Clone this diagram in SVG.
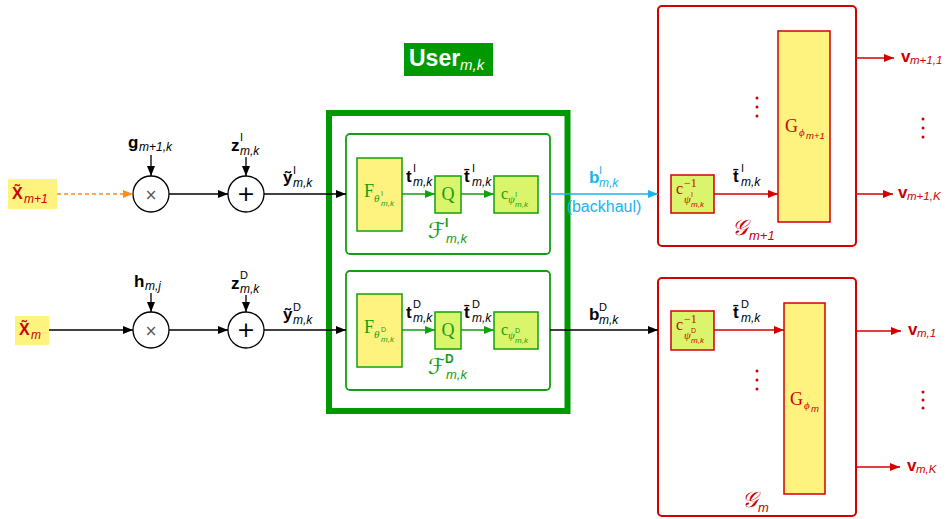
<svg xmlns="http://www.w3.org/2000/svg" width="949" height="519" viewBox="0 0 949 519">
<style>
.v{font-family:"Liberation Sans",Arial,sans-serif;font-weight:bold;font-size:17px}
.s{font-family:"Liberation Sans",Arial,sans-serif;font-style:italic;font-size:12px}
.p{font-family:"Liberation Sans",Arial,sans-serif;font-size:11px}
.rm{font-family:"Liberation Serif","Times New Roman",serif;font-size:18px}
.rs{font-family:"Liberation Serif","Times New Roman",serif;font-style:italic;font-size:11px}
.tn{font-family:"Liberation Sans",Arial,sans-serif;font-style:italic;font-size:8px}
.tu{font-family:"Liberation Sans",Arial,sans-serif;font-size:7px}
.cal{font-family:"DejaVu Sans","Noto Sans",sans-serif;font-style:italic;font-size:22px}
.gr{fill:#11a011}
.rd{fill:#cc0000}
.bl{fill:#1ab2f0}
.yel{fill:#fff380}
.lim{fill:#daf56c}
</style>
<defs>
<marker id="ak" viewBox="0 0 10 8" refX="10" refY="4" markerWidth="10" markerHeight="8" markerUnits="userSpaceOnUse" orient="auto"><path d="M0,0 L10,4 L0,8 z" fill="#000"/></marker>
<marker id="ag" viewBox="0 0 10 8" refX="10" refY="4" markerWidth="10" markerHeight="8" markerUnits="userSpaceOnUse" orient="auto"><path d="M0,0 L10,4 L0,8 z" fill="#11a011"/></marker>
<marker id="ar" viewBox="0 0 10 8" refX="10" refY="4" markerWidth="10" markerHeight="8" markerUnits="userSpaceOnUse" orient="auto"><path d="M0,0 L10,4 L0,8 z" fill="#d40000"/></marker>
<marker id="ab" viewBox="0 0 10 8" refX="10" refY="4" markerWidth="10" markerHeight="8" markerUnits="userSpaceOnUse" orient="auto"><path d="M0,0 L10,4 L0,8 z" fill="#1ab2f0"/></marker>
<marker id="ao" viewBox="0 0 10 8" refX="10" refY="4" markerWidth="10" markerHeight="8" markerUnits="userSpaceOnUse" orient="auto"><path d="M0,0 L10,4 L0,8 z" fill="#ff8c1a"/></marker>
</defs>

<!-- containers -->
<g id="user-label">
<rect x="404" y="43" width="89" height="33" fill="#009900"/>
<text x="409" y="66" style="font-family:'Liberation Sans',Arial,sans-serif;font-weight:bold;font-size:23px" fill="#fff">User</text>
<text x="460" y="70" style="font-family:'Liberation Sans',Arial,sans-serif;font-style:italic;font-size:15px" fill="#fff">m,k</text>
</g>
<g id="user-box">
<rect x="329" y="113" width="238.5" height="298" fill="none" stroke="#009900" stroke-width="6"/>
</g>
<g id="encoder-I">
<rect x="346" y="134" width="204" height="120" rx="4" fill="none" stroke="#11a011" stroke-width="1.8"/>
<text class="cal gr" x="428" y="238">ℱ</text>
<text class="p gr" x="445" y="227" style="font-weight:bold;font-size:12px">I</text>
<text class="s gr" x="446" y="243" style="font-size:13px">m,k</text>
</g>
<g id="encoder-D">
<rect x="346" y="271" width="204" height="119" rx="4" fill="none" stroke="#11a011" stroke-width="1.8"/>
<text class="cal gr" x="428" y="374">ℱ</text>
<text class="p gr" x="445" y="363" style="font-weight:bold;font-size:12px">D</text>
<text class="s gr" x="446" y="379" style="font-size:13px">m,k</text>
</g>
<g id="decoder-m1">
<rect x="658" y="6" width="198" height="240" rx="4" fill="#fff" stroke="#d40000" stroke-width="2"/>
<text class="cal rd" x="732" y="235">𝒢</text>
<text class="s rd" x="749" y="240" style="font-size:13px">m+1</text>
</g>
<g id="decoder-m">
<rect x="658" y="278" width="198" height="238" rx="4" fill="#fff" stroke="#d40000" stroke-width="2"/>
<text class="cal rd" x="742" y="507">𝒢</text>
<text class="s rd" x="758" y="512" style="font-size:13px">m</text>
</g>

<!-- inputs -->
<g id="input-xm1">
<rect x="8" y="179" width="49" height="30" class="yel"/>
<text class="v rd" x="12" y="199" style="font-size:16px">X̃</text>
<text class="s rd" x="24" y="203">m+1</text>
</g>
<g id="input-xm">
<rect x="15" y="316" width="34" height="29" class="yel"/>
<text class="v rd" x="19" y="335" style="font-size:16px">X̃</text>
<text class="s rd" x="31" y="339">m</text>
</g>

<!-- operators -->
<g id="mult-I"><circle cx="151" cy="194" r="18" fill="#fff" stroke="#000" stroke-width="1.3"/><text x="151" y="199.5" text-anchor="middle" style="font-family:'DejaVu Sans',sans-serif;font-size:15px" fill="#555">×</text></g>
<g id="add-I"><circle cx="246" cy="194" r="18" fill="#fff" stroke="#000" stroke-width="1.3"/><text x="246" y="201" text-anchor="middle" style="font-family:'DejaVu Sans',sans-serif;font-size:22px" fill="#000">+</text></g>
<g id="mult-D"><circle cx="151" cy="330" r="18" fill="#fff" stroke="#000" stroke-width="1.3"/><text x="151" y="335.5" text-anchor="middle" style="font-family:'DejaVu Sans',sans-serif;font-size:15px" fill="#555">×</text></g>
<g id="add-D"><circle cx="246" cy="330" r="18" fill="#fff" stroke="#000" stroke-width="1.3"/><text x="246" y="337" text-anchor="middle" style="font-family:'DejaVu Sans',sans-serif;font-size:22px" fill="#000">+</text></g>

<g id="label-g"><text class="v" x="128" y="148">g</text><text class="s" x="139" y="151">m+1,k</text></g>
<g id="label-zI"><text class="v" x="231" y="151">z</text><text class="p" x="240" y="141">I</text><text class="s" x="240" y="155">m,k</text></g>
<g id="label-h"><text class="v" x="134" y="287">h</text><text class="s" x="145" y="290">m,j</text></g>
<g id="label-zD"><text class="v" x="231" y="289">z</text><text class="p" x="240" y="279">D</text><text class="s" x="240" y="293">m,k</text></g>
<g id="label-yI"><text class="v" x="283" y="183">ỹ</text><text class="p" x="293" y="174">I</text><text class="s" x="293" y="187">m,k</text></g>
<g id="label-yD"><text class="v" x="283" y="320">ỹ</text><text class="p" x="293" y="311">D</text><text class="s" x="293" y="324">m,k</text></g>

<!-- encoder internals I -->
<g id="F-I"><rect x="357" y="158" width="45" height="73" class="yel" stroke="#11a011" stroke-width="1.5"/>
<text class="rm gr" x="364" y="197">F</text><text class="rs gr" x="374" y="202">θ</text><text class="tu gr" x="381" y="196">I</text><text class="tn gr" x="381" y="206">m,k</text></g>
<g id="Q-I"><rect x="435" y="176" width="26" height="37" class="lim" stroke="#11a011" stroke-width="1.5"/><text class="rm gr" x="448" y="200" text-anchor="middle">Q</text></g>
<g id="C-I"><rect x="494" y="176" width="44" height="37" class="lim" stroke="#11a011" stroke-width="1.5"/>
<text class="rm gr" x="501" y="199" style="font-size:16px">c</text><text class="rs gr" x="508" y="203">ψ</text><text class="tu gr" x="515" y="197">I</text><text class="tn gr" x="515" y="207">m,k</text></g>
<!-- encoder internals D -->
<g id="F-D"><rect x="357" y="294" width="45" height="73" class="yel" stroke="#11a011" stroke-width="1.5"/>
<text class="rm gr" x="364" y="333">F</text><text class="rs gr" x="374" y="338">θ</text><text class="tu gr" x="381" y="332">D</text><text class="tn gr" x="381" y="342">m,k</text></g>
<g id="Q-D"><rect x="435" y="312" width="26" height="37" class="lim" stroke="#11a011" stroke-width="1.5"/><text class="rm gr" x="448" y="336" text-anchor="middle">Q</text></g>
<g id="C-D"><rect x="494" y="312" width="44" height="37" class="lim" stroke="#11a011" stroke-width="1.5"/>
<text class="rm gr" x="501" y="335" style="font-size:16px">c</text><text class="rs gr" x="508" y="339">ψ</text><text class="tu gr" x="515" y="333">D</text><text class="tn gr" x="515" y="343">m,k</text></g>

<g id="label-tI"><text class="v" x="406" y="182">t</text><text class="p" x="413" y="172">I</text><text class="s" x="413" y="186">m,k</text></g>
<g id="label-tbI"><text class="v" x="464" y="182">t̄</text><text class="p" x="472" y="172">I</text><text class="s" x="472" y="186">m,k</text></g>
<g id="label-tD"><text class="v" x="406" y="318">t</text><text class="p" x="413" y="308">D</text><text class="s" x="413" y="322">m,k</text></g>
<g id="label-tbD"><text class="v" x="464" y="318">t̄</text><text class="p" x="472" y="308">D</text><text class="s" x="472" y="322">m,k</text></g>

<!-- decoder internals m+1 -->
<g id="Cinv-I"><rect x="671" y="175" width="43" height="38" class="lim" stroke="#d40000" stroke-width="1.5"/>
<text class="rm rd" x="676" y="194" style="font-size:16px">c</text><text class="rd" x="684" y="187" style="font-family:'Liberation Serif',serif;font-size:12px">−1</text>
<text class="rs rd" x="684" y="203">ψ</text><text class="tu rd" x="691" y="197">I</text><text class="tn rd" x="691" y="207">m,k</text></g>
<g id="G-m1"><rect x="778" y="31" width="52" height="191" class="yel" stroke="#d40000" stroke-width="1.5"/>
<text class="rm rd" x="785" y="132">G</text><text class="rs rd" x="799" y="136">ϕ</text><text class="tn rd" x="806" y="139" style="font-size:9.5px">m+1</text></g>
<g id="label-tbI2"><text class="v" x="733" y="182">t̄</text><text class="p" x="741" y="172">I</text><text class="s" x="741" y="186">m,k</text></g>
<g id="dots-m1" class="rd"><circle cx="757" cy="98" r="1.5"/><circle cx="757" cy="107" r="1.5"/><circle cx="757" cy="116" r="1.5"/></g>
<!-- decoder internals m -->
<g id="Cinv-D"><rect x="671" y="311" width="43" height="39" class="lim" stroke="#d40000" stroke-width="1.5"/>
<text class="rm rd" x="676" y="330" style="font-size:16px">c</text><text class="rd" x="684" y="323" style="font-family:'Liberation Serif',serif;font-size:12px">−1</text>
<text class="rs rd" x="684" y="339">ψ</text><text class="tu rd" x="691" y="333">D</text><text class="tn rd" x="691" y="343">m,k</text></g>
<g id="G-m"><rect x="784" y="303" width="41" height="191" class="yel" stroke="#d40000" stroke-width="1.5"/>
<text class="rm rd" x="790" y="405">G</text><text class="rs rd" x="804" y="409">ϕ</text><text class="tn rd" x="811" y="412" style="font-size:9.5px">m</text></g>
<g id="label-tbD2"><text class="v" x="733" y="318">t̄</text><text class="p" x="741" y="308">D</text><text class="s" x="741" y="322">m,k</text></g>
<g id="dots-m" class="rd"><circle cx="757" cy="371" r="1.5"/><circle cx="757" cy="380" r="1.5"/><circle cx="757" cy="389" r="1.5"/></g>

<!-- outputs -->
<g id="out-labels">
<text class="v rd" x="901" y="62">v</text><text class="s rd" x="910" y="64" style="font-size:11.5px">m+1,1</text>
<text class="v rd" x="898" y="198">v</text><text class="s rd" x="907" y="200" style="font-size:11.5px">m+1,K</text>
<text class="v rd" x="908" y="335">v</text><text class="s rd" x="917" y="337" style="font-size:11.5px">m,1</text>
<text class="v rd" x="907" y="471">v</text><text class="s rd" x="916" y="473" style="font-size:11.5px">m,K</text>
</g>
<g id="out-dots" class="rd"><circle cx="923" cy="119" r="1.5"/><circle cx="923" cy="128" r="1.5"/><circle cx="923" cy="137" r="1.5"/>
<circle cx="923" cy="392" r="1.5"/><circle cx="923" cy="400" r="1.5"/><circle cx="923" cy="408" r="1.5"/></g>

<g id="label-bI"><text class="v bl" x="589" y="183">b</text><text class="p bl" x="599" y="174">I</text><text class="s bl" x="599" y="187">m,k</text>
<text class="bl" x="604" y="212" text-anchor="middle" style="font-family:'Liberation Sans',Arial,sans-serif;font-size:16px">(backhaul)</text></g>
<g id="label-bD"><text class="v" x="589" y="320">b</text><text class="p" x="599" y="311">D</text><text class="s" x="599" y="324">m,k</text></g>

<!-- connectors -->
<g id="connectors">
<line x1="57" y1="194" x2="133" y2="194" stroke="#ff8c1a" stroke-width="1.5" stroke-dasharray="4,3" marker-end="url(#ao)"/>
<line x1="49" y1="330" x2="133" y2="330" stroke="#000" stroke-width="1.3" marker-end="url(#ak)"/>
<line x1="169" y1="194" x2="228" y2="194" stroke="#000" stroke-width="1.3" marker-end="url(#ak)"/>
<line x1="169" y1="330" x2="228" y2="330" stroke="#000" stroke-width="1.3" marker-end="url(#ak)"/>
<line x1="264" y1="194" x2="346" y2="194" stroke="#000" stroke-width="1.3" marker-end="url(#ak)"/>
<line x1="264" y1="330" x2="346" y2="330" stroke="#000" stroke-width="1.3" marker-end="url(#ak)"/>
<line x1="151" y1="155" x2="151" y2="176" stroke="#000" stroke-width="1.3" marker-end="url(#ak)"/>
<line x1="246" y1="157" x2="246" y2="176" stroke="#000" stroke-width="1.3" marker-end="url(#ak)"/>
<line x1="151" y1="293" x2="151" y2="312" stroke="#000" stroke-width="1.3" marker-end="url(#ak)"/>
<line x1="246" y1="295" x2="246" y2="312" stroke="#000" stroke-width="1.3" marker-end="url(#ak)"/>
<line x1="402" y1="194" x2="435" y2="194" stroke="#11a011" stroke-width="1.5" marker-end="url(#ag)"/>
<line x1="461" y1="194" x2="494" y2="194" stroke="#11a011" stroke-width="1.5" marker-end="url(#ag)"/>
<line x1="402" y1="330" x2="435" y2="330" stroke="#11a011" stroke-width="1.5" marker-end="url(#ag)"/>
<line x1="461" y1="330" x2="494" y2="330" stroke="#11a011" stroke-width="1.5" marker-end="url(#ag)"/>
<line x1="550" y1="194" x2="658" y2="194" stroke="#1ab2f0" stroke-width="1.5" marker-end="url(#ab)"/>
<line x1="550" y1="330" x2="658" y2="330" stroke="#000" stroke-width="1.3" marker-end="url(#ak)"/>
<line x1="714" y1="194" x2="778" y2="194" stroke="#d40000" stroke-width="1.5" marker-end="url(#ar)"/>
<line x1="714" y1="330" x2="784" y2="330" stroke="#d40000" stroke-width="1.5" marker-end="url(#ar)"/>
<line x1="857" y1="58" x2="894" y2="58" stroke="#d40000" stroke-width="1.5" marker-end="url(#ar)"/>
<line x1="857" y1="194" x2="893" y2="194" stroke="#d40000" stroke-width="1.5" marker-end="url(#ar)"/>
<line x1="857" y1="331" x2="901" y2="331" stroke="#d40000" stroke-width="1.5" marker-end="url(#ar)"/>
<line x1="857" y1="467" x2="900" y2="467" stroke="#d40000" stroke-width="1.5" marker-end="url(#ar)"/>
</g>
</svg>
